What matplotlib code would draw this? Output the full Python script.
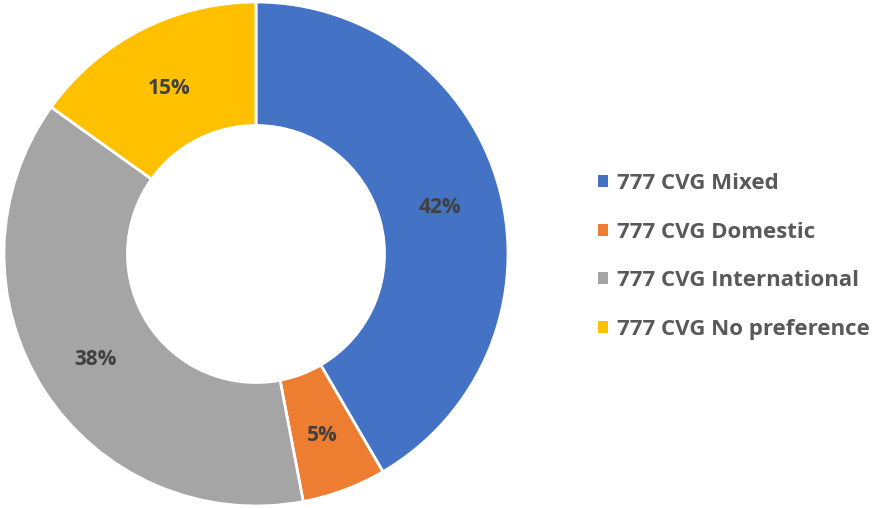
import matplotlib
matplotlib.use("Agg")
import matplotlib.pyplot as plt
from matplotlib.patches import Patch
import numpy as np

labels = ["777 CVG Mixed", "777 CVG Domestic", "777 CVG International", "777 CVG No preference"]
shares = [41.6, 5.4, 37.9, 15.1]
pct_labels = ["42%", "5%", "38%", "15%"]
colors = ["#4472C4", "#ED7D31", "#A5A5A5", "#FFC000"]

plt.rcParams['font.family'] = ['Open Sans', 'DejaVu Sans']

fig = plt.figure(figsize=(8.76, 5.08), dpi=100)
ax = fig.add_axes([4 / 876, 2 / 508, 504 / 876, 504 / 508])

wedges, _ = ax.pie(shares, colors=colors, startangle=90, counterclock=False,
                   radius=1.0, wedgeprops=dict(width=0.49, edgecolor="white", linewidth=2))

# percentage labels at mid-ring
ang0 = 90.0
tot = sum(shares)
for s, lab in zip(shares, pct_labels):
    mid = np.deg2rad(ang0 - s / tot * 360 / 2)
    ax.text(0.755 * np.cos(mid), 0.755 * np.sin(mid) - 0.014, lab, ha="center", va="center",
            fontsize=15, fontweight="bold", color="#404040")
    ang0 -= s / tot * 360

ax.set_aspect("equal")
ax.set_xlim(-1, 1)
ax.set_ylim(-1, 1)
ax.axis("off")

handles = [Patch(facecolor=c, edgecolor="none") for c in colors]
fig.legend(handles, labels, loc="center left", bbox_to_anchor=(578 / 876, 251.5 / 508),
           frameon=False, handlelength=0.45, handleheight=0.45,
           handletextpad=0.4, labelspacing=1.24, labelcolor="#595959",
           prop=dict(weight="bold", size=16))

fig.savefig("out.png", dpi=100)
